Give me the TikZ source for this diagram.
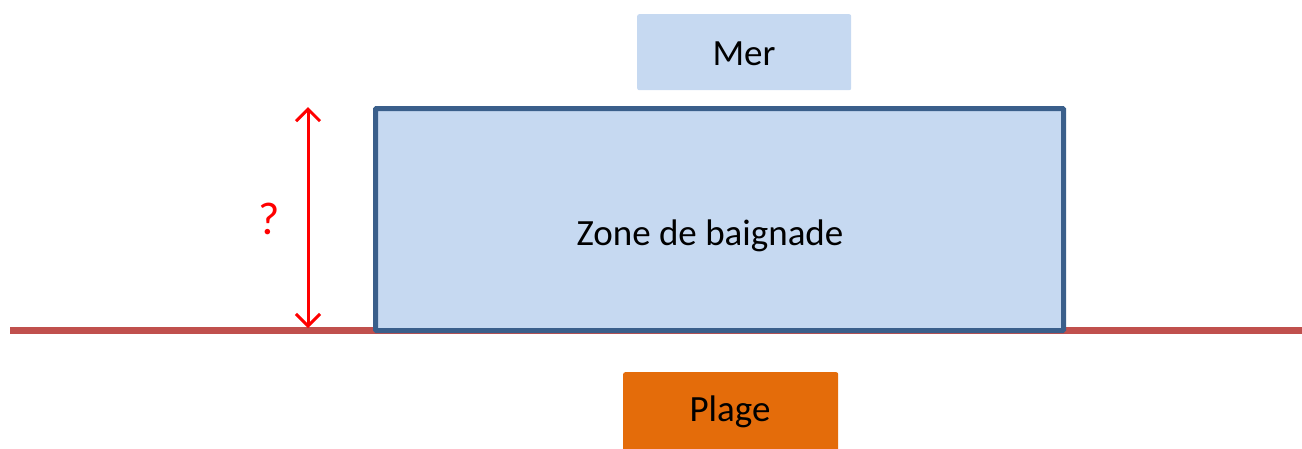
\documentclass[tikz,border=0pt]{standalone}
\usepackage{fontspec}
\setmainfont{Carlito}
\usetikzlibrary{arrows.meta}
\definecolor{boxblue}{HTML}{C6D9F1}
\definecolor{edgeblue}{HTML}{3A5F8B}
\definecolor{shore}{HTML}{C0504D}
\definecolor{sand}{HTML}{E46C0A}
\tikzset{
  lbl/.style={font=\fontsize{37}{44}\selectfont, text=black},
  flatbox/.style={rounded corners=2pt, inner sep=0pt, lbl},
  measure/.style={red, line width=3pt, >={Straight Barb[length=12pt,width=24pt]}, <->},
}
\begin{document}
\begin{tikzpicture}[x=1pt,y=-1pt]
\useasboundingbox (0,0) rectangle (1302,448);
% shoreline
\coordinate (sl) at (10,330);
\coordinate (sr) at (1302,330);
\draw[shore, line width=7pt] (sl) -- (sr);
% zone
\node[flatbox, draw=edgeblue, line width=5pt, fill=boxblue, rounded corners=1pt,
      minimum width=688pt, minimum height=222pt, anchor=north west] (zone) at (373,106) {};
\node[lbl] (zonelbl) at (710,236) {Zone de baignade};
% mer
\node[flatbox, fill=boxblue, minimum width=214pt, minimum height=76pt, anchor=north west] (mer) at (637,14) {};
\node[lbl] (merlbl) at (744,54) {Mer};
% plage
\node[flatbox, fill=sand, minimum width=215pt, minimum height=80pt, anchor=north west] (plage) at (623,372) {};
\node[lbl] (plagelbl) at (730,412) {Plage};
% arrow
\coordinate (atop) at (308,107);
\coordinate (abot) at (308,328);
\draw[measure] (atop) -- (abot);
\node[font=\fontsize{46}{52}\selectfont, text=red] (q) at (269,219) {?};
\end{tikzpicture}
\end{document}
